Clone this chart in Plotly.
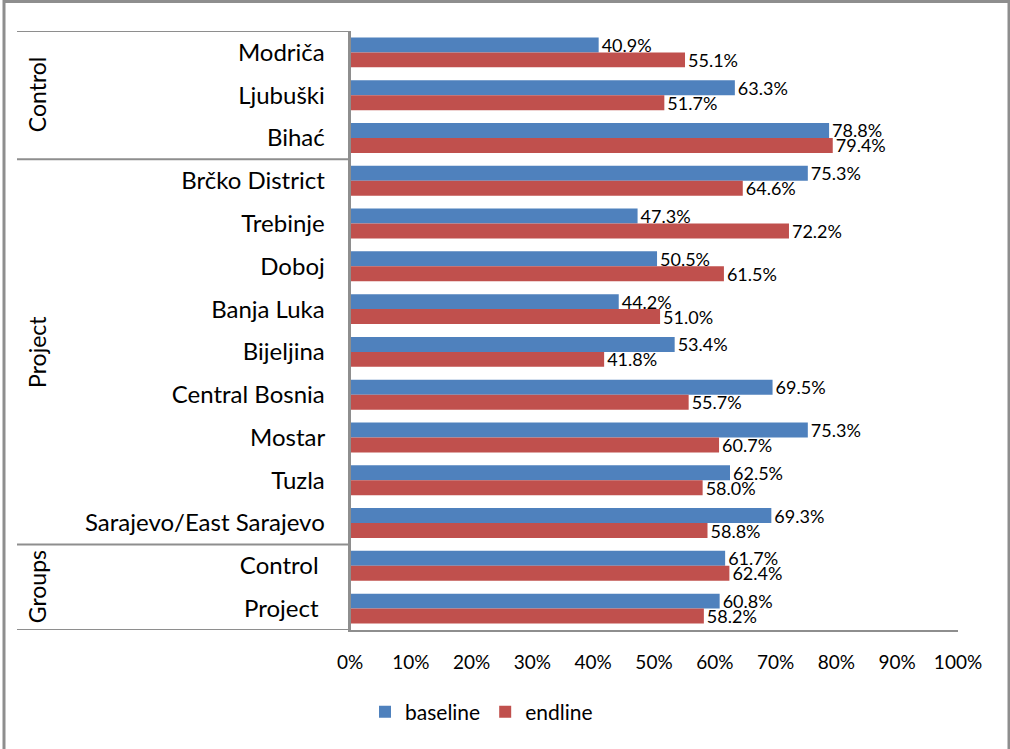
import plotly.graph_objects as go

# categories top to bottom
regions = [
    "Modriča", "Ljubuški", "Bihać",
    "Brčko District", "Trebinje", "Doboj", "Banja Luka", "Bijeljina",
    "Central Bosnia", "Mostar", "Tuzla", "Sarajevo/East Sarajevo",
    "Control ", "Project ",
]
baseline = [40.9, 63.3, 78.8, 75.3, 47.3, 50.5, 44.2, 53.4, 69.5, 75.3, 62.5, 69.3, 61.7, 60.8]
endline = [55.1, 51.7, 79.4, 64.6, 72.2, 61.5, 51.0, 41.8, 55.7, 60.7, 58.0, 58.8, 62.4, 58.2]

group_names = ["Control", "Project", "Groups"]
group_centers = [1, 7, 12.5]
group_bounds = [-0.5, 2.5, 11.5, 13.5]

FONT = "Lato, Carlito, Calibri, sans-serif"
BLUE = "#4F81BD"
RED = "#C0504D"
GRAY = "#8E8E8E"

# plot area in pixels
L, R, T, B = 350, 958, 31, 630
W, H = 1010, 749


def px_x(px):
    return (px - L) / (R - L)


def px_y(py):
    return (B - py) / (B - T)


fig = go.Figure()
for name, vals, col in [("baseline", baseline, BLUE), ("endline", endline, RED)]:
    fig.add_trace(go.Bar(
        y=regions, x=vals, name=name, orientation="h",
        marker=dict(color=col, line=dict(width=0)),
        text=[f"{v:.1f}%" for v in vals], textposition="outside",
        textfont=dict(size=18, color="#000000", family=FONT),
        constraintext="none", cliponaxis=False,
    ))

fig.update_layout(
    width=W, height=H,
    margin=dict(l=L, r=W - R, t=T, b=H - B),
    barmode="group", bargap=0.3, bargroupgap=0,
    paper_bgcolor="white", plot_bgcolor="white",
    font=dict(family=FONT, color="#000000"),
    showlegend=True,
    legend=dict(orientation="h", x=px_x(365), xanchor="left", y=px_y(712), yanchor="middle",
                font=dict(size=21), itemwidth=30, traceorder="normal"),
    xaxis=dict(range=[0, 100], tickvals=list(range(0, 101, 10)),
               ticktext=[f"{v}%" for v in range(0, 101, 10)],
               showgrid=False, zeroline=False, showline=True, linecolor=GRAY, linewidth=2,
               ticks="", tickfont=dict(size=19), ticklabelstandoff=14),
    yaxis=dict(showgrid=False, showline=True, linecolor=GRAY, linewidth=2,
               ticks="", tickfont=dict(size=24), ticksuffix="   ", range=[13.5, -0.5]),
)

# group separators and labels
for yb in group_bounds:
    fig.add_shape(type="line", xref="paper", yref="y", x0=px_x(17), x1=0, y0=yb, y1=yb,
                  line=dict(color=GRAY, width=2))
fig.add_shape(type="line", xref="paper", yref="paper", x0=0, x1=0, y0=0, y1=1,
              line=dict(color=GRAY, width=2))
for g, c in zip(group_names, group_centers):
    fig.add_annotation(text=g, xref="paper", yref="y", x=px_x(37), y=c, textangle=-90,
                       xanchor="center", yanchor="middle",
                       showarrow=False, font=dict(size=23))

# outer chart border
fig.add_shape(type="rect", xref="paper", yref="paper",
              x0=px_x(4), x1=px_x(1009), y0=px_y(752), y1=px_y(1.5),
              line=dict(color=GRAY, width=3), layer="below")

fig.write_html("out.html", config={"displayModeBar": False},
               post_script="document.body.style.margin='0';")
